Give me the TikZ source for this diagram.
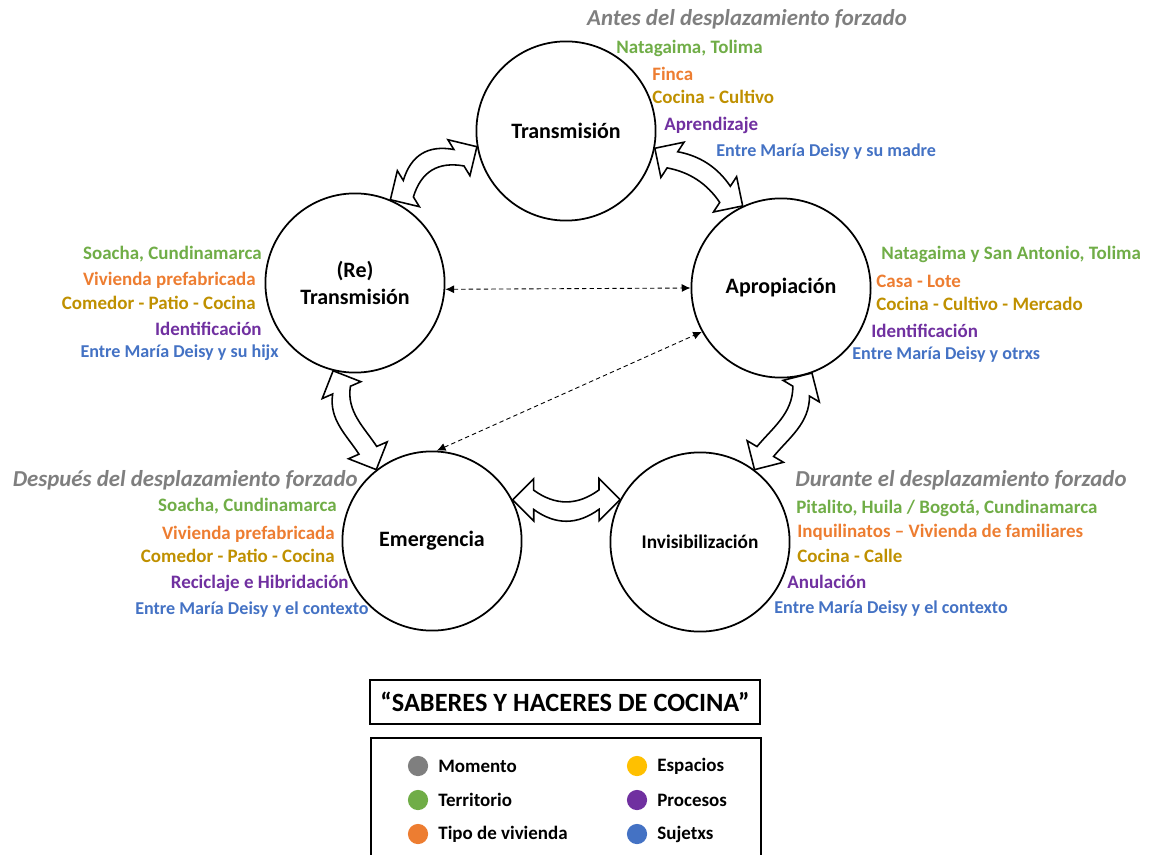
\documentclass[tikz,border=0pt]{standalone}
\usepackage{fontspec}
\setmainfont{Carlito}
\usepackage{xcolor}
\usetikzlibrary{arrows.meta,calc}

\definecolor{colMom}{HTML}{7F7F7F}
\definecolor{colTerr}{HTML}{70AD47}
\definecolor{colViv}{HTML}{ED7D31}
\definecolor{colEsp}{HTML}{BF9000}
\definecolor{colEspDot}{HTML}{FFC000}
\definecolor{colProc}{HTML}{7030A0}
\definecolor{colSuj}{HTML}{4472C4}

\tikzset{
  etapa/.style={circle, draw, line width=1pt, minimum size=102pt, inner sep=0pt, align=center,
    font=\bfseries\fontsize{12.5}{15}\selectfont},
  dato/.style={inner sep=0pt, font=\bfseries\fontsize{10.8}{12}\selectfont},
  sujeto/.style={dato, text=colSuj, font=\bfseries\fontsize{10.3}{12}\selectfont},
  momento/.style={inner sep=0pt, text=colMom, font=\bfseries\itshape\fontsize{13}{15}\selectfont},
  bloque/.style={draw, line width=0.9pt, fill=white, line join=miter},
  enlace/.style={dash pattern=on 2.5pt off 1.8pt, line width=0.5pt,
    {Latex[length=5pt,width=4.5pt]}-{Latex[length=5pt,width=4.5pt]}},
  leyenda/.style={inner sep=0pt, anchor=west, font=\bfseries\fontsize{10.8}{13}\selectfont},
  punto/.style={circle, inner sep=0pt, minimum size=11.5pt}
}

% double block arrow between two points, #3/#4 bend the shaft
\newcommand{\flechadoble}[4]{%
  \draw[bloque] let \p1=(#1), \p2=(#2),
      \n1={atan2(\y2-\y1,\x2-\x1)}, \n2={veclen(\x2-\x1,\y2-\y1)},
      \n3={\n2-12pt}, \n4={12pt+(\n2-24pt)/3}, \n5={12pt+2*(\n2-24pt)/3},
      \n6={(5.5+(#3))*1pt}, \n7={(5.5+(#4))*1pt}, \n8={(-5.5+(#3))*1pt}, \n9={(-5.5+(#4))*1pt} in
    [shift={(\p1)}, rotate=\n1]
    (0pt,0pt) -- (12pt,12pt) -- (12pt,5.5pt)
    .. controls (\n4,\n6) and (\n5,\n7) .. (\n3,5.5pt)
    -- (\n3,12pt) -- (\n2,0pt) -- (\n3,-12pt) -- (\n3,-5.5pt)
    .. controls (\n5,\n9) and (\n4,\n8) .. (12pt,-5.5pt)
    -- (12pt,-12pt) -- cycle;}

\begin{document}
\begin{tikzpicture}[x=0.02cm, y=-0.02cm]
  \useasboundingbox (0,0) rectangle (1151,854);

  % the five moments
  \node[etapa] (tr) at (566,131) {Transmisión};
  \node[etapa] (re) at (355,283) {(Re)\\Transmisión};
  \node[etapa] (ap) at (781,288) {Apropiación};
  \node[etapa] (em) at (432,541) {Emergencia};
  \node[etapa, font=\bfseries\fontsize{11}{13}\selectfont] (inv) at (700,542) {Invisibilización};

  % block arrows
  \flechadoble{tr.190}{re.67}{-10}{-10}
  \flechadoble{tr.349}{ap.115}{5}{5}
  \flechadoble{re.256}{em.128}{-8}{-2}
  \flechadoble{ap.290}{inv.53}{8}{2}
  \flechadoble{em.27}{inv.152}{-9}{-9}

  % dashed links
  \draw[enlace] (re.-4) -- (ap.180);
  \draw[enlace] (em.87) -- (ap.209);

  % antes
  \node[momento] (antes) at (747,19) {Antes del desplazamiento forzado};
  \node[dato, text=colTerr, anchor=west] (tr1) at (616,48) {Natagaima, Tolima};
  \node[dato, text=colViv, anchor=west] (tr2) at (652,74) {Finca};
  \node[dato, text=colEsp, anchor=west] (tr3) at (652,97) {Cocina - Cultivo};
  \node[dato, text=colProc, anchor=west] (tr4) at (664,125) {Aprendizaje};
  \node[sujeto, anchor=west] (tr5) at (716,152) {Entre María Deisy y su madre};

  % (re) transmision
  \node[dato, text=colTerr, anchor=east] (re1) at (262,254) {Soacha, Cundinamarca};
  \node[dato, text=colViv, anchor=east] (re2) at (256,280) {Vivienda prefabricada};
  \node[dato, text=colEsp, anchor=east] (re3) at (256,303) {Comedor - Patio - Cocina};
  \node[dato, text=colProc, anchor=east] (re4) at (262,329) {Identificación};
  \node[sujeto, anchor=east] (re5) at (279,353) {Entre María Deisy y su hijx};

  % apropiacion
  \node[dato, text=colTerr, anchor=west] (ap1) at (881,254) {Natagaima y San Antonio, Tolima};
  \node[dato, text=colViv, anchor=west] (ap2) at (876,281) {Casa - Lote};
  \node[dato, text=colEsp, anchor=west] (ap3) at (876,304) {Cocina - Cultivo - Mercado};
  \node[dato, text=colProc, anchor=west] (ap4) at (871,331) {Identificación};
  \node[sujeto, anchor=west] (ap5) at (852,355) {Entre María Deisy y otrxs};

  % despues
  \node[momento, anchor=east] (despues) at (358,480) {Después del desplazamiento forzado};
  \node[dato, text=colTerr, anchor=east] (em1) at (337,506) {Soacha, Cundinamarca};
  \node[dato, text=colViv, anchor=east] (em2) at (335,534) {Vivienda prefabricada};
  \node[dato, text=colEsp, anchor=east] (em3) at (335,556) {Comedor - Patio - Cocina};
  \node[dato, text=colProc, anchor=east] (em4) at (349,583) {Reciclaje e Hibridación};
  \node[sujeto, anchor=east] (em5) at (369,610) {Entre María Deisy y el contexto};

  % durante
  \node[momento, anchor=west] (durante) at (795,480) {Durante el desplazamiento forzado};
  \node[dato, text=colTerr, anchor=west] (in1) at (796,508) {Pitalito, Huila / Bogotá, Cundinamarca};
  \node[dato, text=colViv, anchor=west] (in2) at (797,532) {Inquilinatos – Vivienda de familiares};
  \node[dato, text=colEsp, anchor=west] (in3) at (797,556) {Cocina - Calle};
  \node[dato, text=colProc, anchor=west] (in4) at (787,582) {Anulación};
  \node[sujeto, anchor=west] (in5) at (774,609) {Entre María Deisy y el contexto};

  % title and legend
  \node[draw, line width=1.1pt, minimum width=222pt, minimum height=25pt,
    font=\bfseries\fontsize{15}{18}\selectfont] (titulo) at (565,702) {“SABERES Y HACERES DE COCINA”};
  \draw[line width=1.1pt] (371,738) rectangle (761,870);
  \node[punto, fill=colMom] (p1) at (418,766) {};
  \node[punto, fill=colTerr] (p2) at (418,800) {};
  \node[punto, fill=colViv] (p3) at (418,834) {};
  \node[punto, fill=colEspDot] (p4) at (637,766) {};
  \node[punto, fill=colProc] (p5) at (637,800) {};
  \node[punto, fill=colSuj] (p6) at (637,834) {};
  \node[leyenda] (l1) at (438,766) {Momento};
  \node[leyenda] (l2) at (438,800) {Territorio};
  \node[leyenda] (l3) at (438,834) {Tipo de vivienda};
  \node[leyenda] (l4) at (657,766) {Espacios};
  \node[leyenda] (l5) at (657,800) {Procesos};
  \node[leyenda] (l6) at (657,834) {Sujetxs};
\end{tikzpicture}
\end{document}
